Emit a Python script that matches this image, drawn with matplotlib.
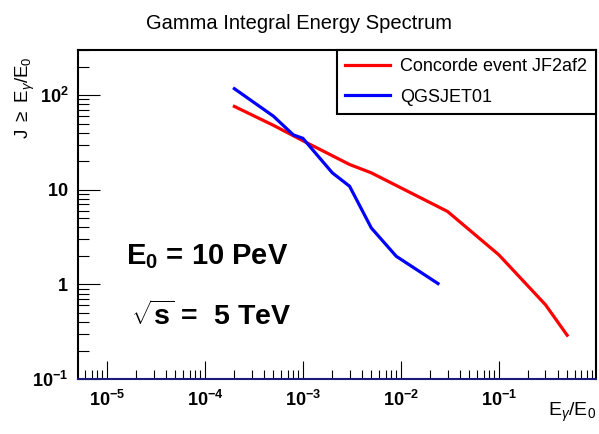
import matplotlib
matplotlib.use("Agg")
import matplotlib.pyplot as plt
from matplotlib.ticker import FixedLocator, FixedFormatter, LogLocator, NullFormatter

plt.rcParams['font.family'] = ['Liberation Sans', 'DejaVu Sans']
plt.rcParams['mathtext.fontset'] = 'custom'
plt.rcParams['mathtext.rm'] = 'Liberation Sans'
plt.rcParams['mathtext.it'] = 'Liberation Sans:italic'
plt.rcParams['mathtext.bf'] = 'Liberation Sans:bold'

# Integral spectra J(>E_gamma/E_0)
concorde_x = [2e-4, 5e-4, 1e-3, 3e-3, 5e-3, 3e-2, 1e-1, 3e-1, 5e-1]
concorde_y = [76, 48, 33, 18.5, 15.1, 5.9, 2.06, 0.61, 0.29]

qgsjet_x = [2e-4, 5e-4, 8e-4, 1e-3, 2e-3, 3e-3, 5e-3, 9e-3, 2.4e-2]
qgsjet_y = [117, 60, 38, 35, 15.1, 10.9, 3.95, 1.98, 1.02]

x_ticks = [1e-5, 1e-4, 1e-3, 1e-2, 1e-1, 1]
x_tick_labels = [r'$\mathbf{10^{-5}}$', r'$\mathbf{10^{-4}}$', r'$\mathbf{10^{-3}}$',
                 r'$\mathbf{10^{-2}}$', r'$\mathbf{10^{-1}}$', r'$\mathbf{1}$']
y_ticks = [0.1, 1, 10, 100]
y_tick_labels = [r'$\mathbf{10^{-1}}$', r'$\mathbf{1}$', r'$\mathbf{10}$', r'$\mathbf{10^{2}}$']

fig = plt.figure(figsize=(5.99, 4.34), dpi=100)
ax = fig.add_axes([0.1302, 0.1267, 0.8648, 0.7581])

ax.plot(concorde_x, concorde_y, color='#ff0000', lw=2.3, label='Concorde event JF2af2',
        solid_joinstyle='miter')
ax.plot(qgsjet_x, qgsjet_y, color='#0000ff', lw=2.3, label='QGSJET01',
        solid_joinstyle='miter')

ax.set_xscale('log')
ax.set_yscale('log')
ax.set_xlim(5.06e-6, 0.985)
ax.set_ylim(0.1, 300)

ax.xaxis.set_major_locator(FixedLocator(x_ticks))
ax.xaxis.set_major_formatter(FixedFormatter(x_tick_labels))
ax.yaxis.set_major_locator(FixedLocator(y_ticks))
ax.yaxis.set_major_formatter(FixedFormatter(y_tick_labels))
ax.xaxis.set_minor_locator(LogLocator(base=10, subs=range(2, 10), numticks=20))
ax.yaxis.set_minor_locator(LogLocator(base=10, subs=range(2, 10), numticks=20))
ax.xaxis.set_minor_formatter(NullFormatter())
ax.yaxis.set_minor_formatter(NullFormatter())

ax.tick_params(axis='both', which='both', direction='in', top=False, right=False,
               color='black', width=0.8)
ax.tick_params(axis='y', which='major', length=15.8, labelsize=13, pad=7)
ax.tick_params(axis='y', which='minor', length=7.9)
ax.tick_params(axis='x', which='major', length=13, labelsize=13, pad=8)
ax.tick_params(axis='x', which='minor', length=6.5)

for side in ['left', 'top', 'right']:
    ax.spines[side].set_linewidth(1.5)
ax.spines['bottom'].set_linewidth(1.5)
ax.spines['bottom'].set_color('#1a1a7a')

leg = ax.legend(loc='upper left', bbox_to_anchor=(0.5, 1.0, 0.5, 0.0), mode='expand',
                fontsize=13, frameon=True, fancybox=False, edgecolor='black',
                framealpha=1, borderaxespad=0, borderpad=0.45, labelspacing=0.75,
                handlelength=2.5, handletextpad=0.55)
leg.get_frame().set_linewidth(1.5)

ax.text(0.093, 0.373, r'$\mathbf{E_0}$ = 10 PeV', transform=ax.transAxes,
        fontsize=21, fontweight='bold', va='center', ha='left')
ax.text(0.103, 0.19, r'$\mathbf{\sqrt{s}}$ =  5 TeV', transform=ax.transAxes,
        fontsize=20.5, fontweight='bold', va='center', ha='left')

fig.text(0.5, 0.947, 'Gamma Integral Energy Spectrum', ha='center', va='center', fontsize=14.5)
fig.text(0.995, 0.05, r'E$_\gamma$/E$_0$', ha='right', va='center', fontsize=14)
fig.text(0.042, 0.87, r'J $\geq$ E$_\gamma$/E$_0$', ha='center', va='top',
         rotation=90, fontsize=13.5)

fig.savefig('out.png', dpi=100)
